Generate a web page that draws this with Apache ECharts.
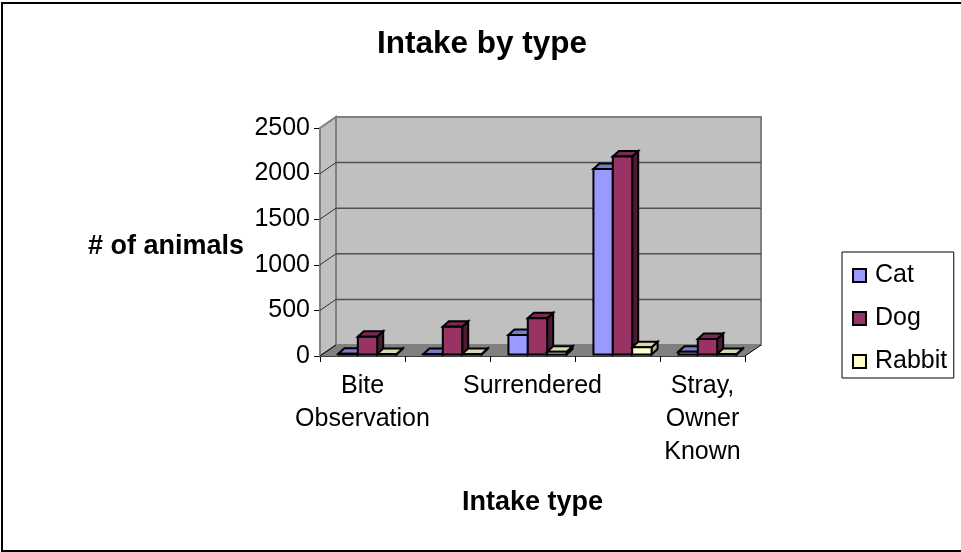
<!DOCTYPE html>
<html><head><meta charset="utf-8">
<style>html,body{margin:0;padding:0;background:#fff}#c{width:961px;height:552px}</style>
<script src="https://cdn.jsdelivr.net/npm/echarts@6/dist/echarts.min.js"></script>
</head><body><div id="c"></div>
<script>
const categories = ['Bite\nObservation', '', 'Surrendered', '', 'Stray,\nOwner\nKnown'];
const catValues = [8, 6, 214, 2034, 30];
const dogValues = [195, 305, 397, 2170, 170];
const rabbitValues = [5, 5, 30, 79, 5];
const yTicks = [0, 500, 1000, 1500, 2000, 2500];
const FONT = '"Liberation Sans", Arial, sans-serif';
const WALL_DX = 16, WALL_DY = -11, BAR_DX = 6, BAR_DY = -5.5, INSET_DX = 5, INSET_DY = -1.5;
const chart = echarts.init(document.getElementById('c'));

function poly(points, fill, stroke, lw) {
  return {type: 'polygon', shape: {points}, style: {fill: fill, stroke: stroke || 'none', lineWidth: lw || 0}};
}
function line(a, b, stroke, lw) {
  return {type: 'line', shape: {x1: a[0], y1: a[1], x2: b[0], y2: b[1]}, style: {stroke, lineWidth: lw}};
}
function renderWalls(params, api) {
  const n = categories.length, top = yTicks[yTicks.length - 1];
  const half = api.size([1, 0])[0] / 2;
  const x0 = api.coord([0, 0])[0] - half, x1 = api.coord([n - 1, 0])[0] + half;
  const y0 = api.coord([0, 0])[1], y1 = api.coord([0, top])[1];
  const kids = [];
  const back = (x, y) => [x + WALL_DX, y + WALL_DY];
  kids.push(poly([[x0, y0], back(x0, y0), back(x1, y0), [x1, y0]], '#808080'));
  kids.push(poly([back(x0, y0), back(x0, y1), back(x1, y1), back(x1, y0)], '#c0c0c0', '#808080', 2));
  kids.push(poly([[x0, y0], [x0, y1], back(x0, y1), back(x0, y0)], '#c0c0c0', '#808080', 2));
  kids.push(line([x1, y0], back(x1, y0), '#000', 1));
  yTicks.forEach(t => {
    const y = api.coord([0, t])[1];
    if (t > 0 && t < top) kids.push(line(back(x0, y), back(x1, y), '#505050', 1.5));
    if (t > 0) kids.push(line([x0, y], back(x0, y), t === top ? '#808080' : '#303030', 1));
  });
  kids.push(line([x0, y0], back(x0, y0), '#000', 1));
  return {type: 'group', children: kids};
}
function barRender(seriesIndex, colors) {
  return function (params, api) {
    const c = api.value(0), v = api.value(1);
    const cat = api.size([1, 0])[0];
    const w = cat * 0.228;
    const left = api.coord([c, 0])[0] - 1.5 * w + seriesIndex * w + INSET_DX;
    const right = left + w;
    const bottom = api.coord([c, 0])[1] + INSET_DY;
    const top = api.coord([c, v])[1] + INSET_DY;
    const st = '#000', lw = 2;
    return {type: 'group', children: [
      poly([[right, bottom], [right, top], [right + BAR_DX, top + BAR_DY], [right + BAR_DX, bottom + BAR_DY]], colors.side, st, lw),
      poly([[left, top], [left + BAR_DX, top + BAR_DY], [right + BAR_DX, top + BAR_DY], [right, top]], colors.top, st, lw),
      poly([[left, bottom], [left, top], [right, top], [right, bottom]], colors.front, st, lw)
    ]};
  };
}
function barSeries(name, idx, values, colors) {
  return {
    name, type: 'custom', z: 3 + idx, clip: false,
    itemStyle: {color: colors.front, borderColor: '#000', borderWidth: 2},
    encode: {x: 0, y: 1},
    data: values.map((v, i) => [i, v]),
    renderItem: barRender(idx, colors)
  };
}
chart.setOption({
  animation: false,
  backgroundColor: '#fff',
  title: {text: 'Intake by type', left: 477, top: 23, textAlign: 'center',
    textStyle: {fontFamily: FONT, fontSize: 31.5, fontWeight: 'bold', color: '#000'}},
  legend: {
    left: 842, top: 252, orient: 'vertical', icon: 'rect', itemWidth: 13, itemHeight: 13, itemGap: 18,
    padding: [11, 6.5, 4, 10], borderColor: '#000', borderWidth: 1, backgroundColor: '#fff',
    textStyle: {fontFamily: FONT, fontSize: 25, lineHeight: 25, color: '#000', padding: [0, 0, 0, 4]},
    data: ['Cat', 'Dog', 'Rabbit']
  },
  grid: {left: 320, top: 128, width: 425, height: 228, containLabel: false},
  xAxis: {
    type: 'category', data: categories, name: 'Intake type', nameLocation: 'middle', nameGap: 133,
    nameTextStyle: {fontFamily: FONT, fontSize: 27, fontWeight: 'bold', color: '#000'},
    boundaryGap: true,
    axisLine: {show: true, lineStyle: {color: '#000', width: 1.5}},
    axisTick: {show: true, alignWithLabel: false, interval: 0, length: 6, lineStyle: {color: '#000', width: 1}},
    axisLabel: {interval: 0, margin: 14, lineHeight: 33, fontFamily: FONT, fontSize: 25, color: '#000'}
  },
  yAxis: {
    type: 'value', min: 0, max: 2500, interval: 500,
    name: '# of animals', nameLocation: 'middle', nameRotate: 0, nameGap: 76,
    nameTextStyle: {fontFamily: FONT, fontSize: 27, fontWeight: 'bold', color: '#000', verticalAlign: 'top', lineHeight: 10},
    splitLine: {show: false},
    axisLine: {show: true, onZero: false, lineStyle: {color: '#000', width: 1.5}},
    axisTick: {show: true, length: 6, lineStyle: {color: '#000', width: 1}},
    axisLabel: {margin: 10, fontFamily: FONT, fontSize: 25, color: '#000', formatter: v => String(v)}
  },
  series: [
    {type: 'custom', silent: true, z: 1, clip: false, legendHoverLink: false, encode: {x: 0, y: 1},
     data: [[0, 0]], renderItem: renderWalls},
    barSeries('Cat', 0, catValues, {front: '#9999ff', top: '#7a7acc', side: '#4d4d80'}),
    barSeries('Dog', 1, dogValues, {front: '#993366', top: '#7a2952', side: '#4d1a33'}),
    barSeries('Rabbit', 2, rabbitValues, {front: '#ffffcc', top: '#d9d9ad', side: '#b3b38f'})
  ],
  graphic: [{type: 'rect', z: 100, silent: true, shape: {x: 2, y: 3, width: 965, height: 548},
    style: {fill: 'none', stroke: '#000', lineWidth: 2}}]
});
</script></body></html>
